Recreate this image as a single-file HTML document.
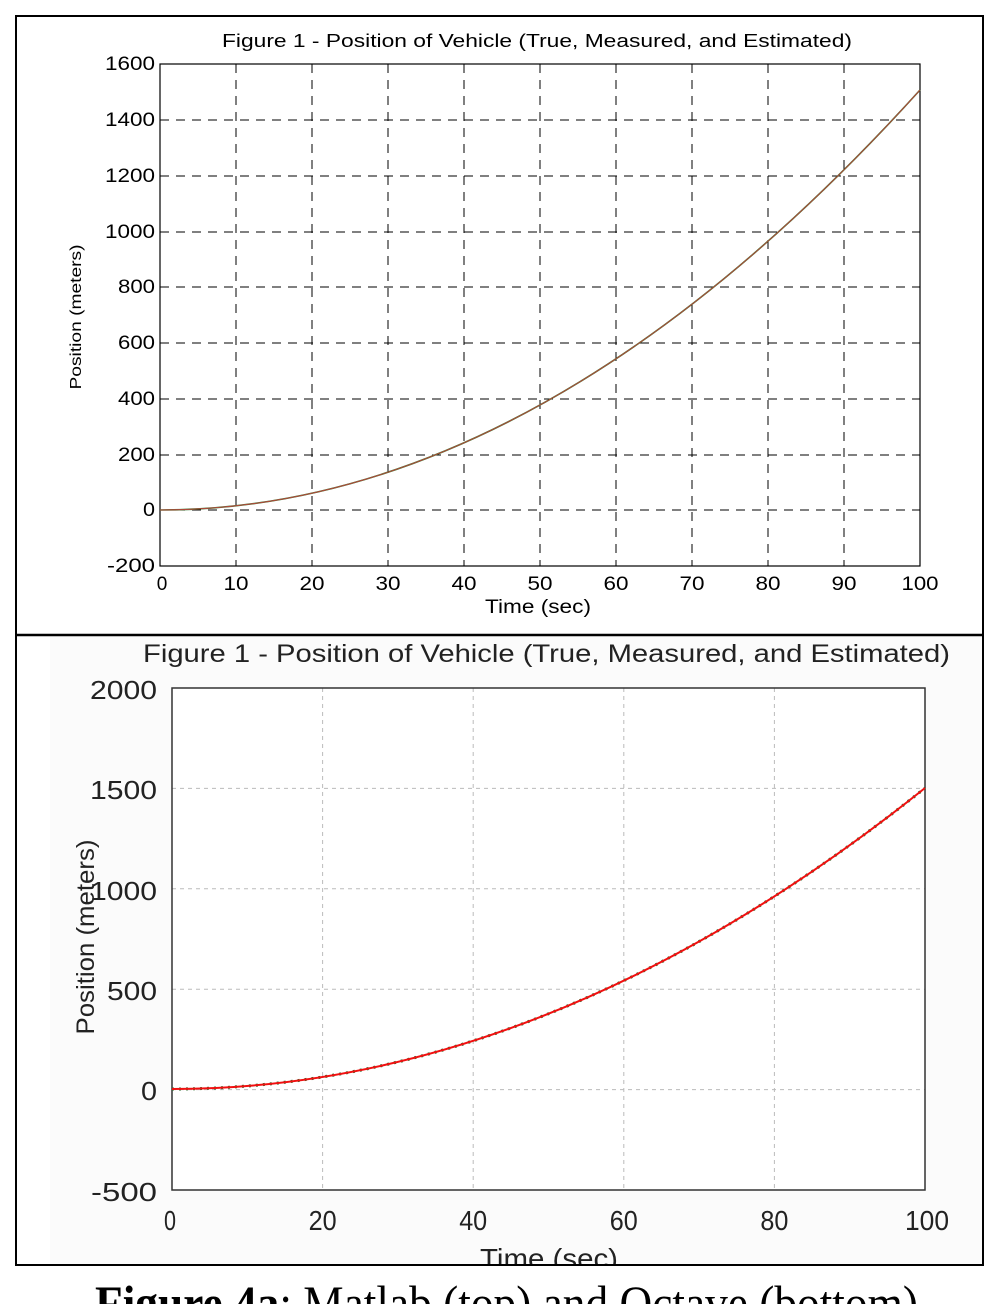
<!DOCTYPE html>
<html><head><meta charset="utf-8"><style>
html,body{margin:0;padding:0;background:#fff;}
svg{display:block;}
</style></head><body>
<svg width="998" height="1304" viewBox="0 0 998 1304" xmlns="http://www.w3.org/2000/svg" font-family="Liberation Sans, Arial, sans-serif">
<rect x="0" y="0" width="998" height="1304" fill="#fff"/>
<rect x="50" y="636" width="932" height="628" fill="#fbfbfb"/>
<rect x="172" y="688" width="753" height="502" fill="#fff"/>
<rect x="16" y="16" width="967" height="1249" fill="none" stroke="#000" stroke-width="2"/>
<line x1="16" y1="635" x2="983" y2="635" stroke="#000" stroke-width="2.5"/>

<!-- TOP PLOT -->
<text x="222" y="47" font-size="18" textLength="630" lengthAdjust="spacingAndGlyphs">Figure 1 - Position of Vehicle (True, Measured, and Estimated)</text>
<g stroke="#000" stroke-width="1" stroke-dasharray="9,7">
<line x1="236" y1="64" x2="236" y2="566"/><line x1="312" y1="64" x2="312" y2="566"/>
<line x1="388" y1="64" x2="388" y2="566"/><line x1="464" y1="64" x2="464" y2="566"/>
<line x1="540" y1="64" x2="540" y2="566"/><line x1="616" y1="64" x2="616" y2="566"/>
<line x1="692" y1="64" x2="692" y2="566"/><line x1="768" y1="64" x2="768" y2="566"/>
<line x1="844" y1="64" x2="844" y2="566"/>
<line x1="160" y1="120" x2="920" y2="120"/><line x1="160" y1="176" x2="920" y2="176"/>
<line x1="160" y1="232" x2="920" y2="232"/><line x1="160" y1="287" x2="920" y2="287"/>
<line x1="160" y1="343" x2="920" y2="343"/><line x1="160" y1="399" x2="920" y2="399"/>
<line x1="160" y1="455" x2="920" y2="455"/><line x1="160" y1="510" x2="920" y2="510"/>
</g>
<rect x="160" y="64" width="760" height="502" fill="none" stroke="#000" stroke-width="1.2"/>
<path d="M160,510 Q540,510 920,90" fill="none" stroke="#2f7a2f" stroke-width="1.6"/>
<path d="M160,510 Q540,510 920,90" fill="none" stroke="#b3473a" stroke-width="1"/>
<g font-size="19" text-anchor="end">
<text x="155" y="70" textLength="50" lengthAdjust="spacingAndGlyphs">1600</text>
<text x="155" y="126" textLength="50" lengthAdjust="spacingAndGlyphs">1400</text>
<text x="155" y="182" textLength="50" lengthAdjust="spacingAndGlyphs">1200</text>
<text x="155" y="238" textLength="50" lengthAdjust="spacingAndGlyphs">1000</text>
<text x="155" y="293" textLength="37" lengthAdjust="spacingAndGlyphs">800</text>
<text x="155" y="349" textLength="37" lengthAdjust="spacingAndGlyphs">600</text>
<text x="155" y="405" textLength="37" lengthAdjust="spacingAndGlyphs">400</text>
<text x="155" y="461" textLength="37" lengthAdjust="spacingAndGlyphs">200</text>
<text x="155" y="516" textLength="12" lengthAdjust="spacingAndGlyphs">0</text>
<text x="155" y="572" textLength="48" lengthAdjust="spacingAndGlyphs">-200</text>
</g>
<g font-size="19" text-anchor="middle">
<text x="162" y="590">0</text>
<text x="236" y="590" textLength="25" lengthAdjust="spacingAndGlyphs">10</text>
<text x="312" y="590" textLength="25" lengthAdjust="spacingAndGlyphs">20</text>
<text x="388" y="590" textLength="25" lengthAdjust="spacingAndGlyphs">30</text>
<text x="464" y="590" textLength="25" lengthAdjust="spacingAndGlyphs">40</text>
<text x="540" y="590" textLength="25" lengthAdjust="spacingAndGlyphs">50</text>
<text x="616" y="590" textLength="25" lengthAdjust="spacingAndGlyphs">60</text>
<text x="692" y="590" textLength="25" lengthAdjust="spacingAndGlyphs">70</text>
<text x="768" y="590" textLength="25" lengthAdjust="spacingAndGlyphs">80</text>
<text x="844" y="590" textLength="25" lengthAdjust="spacingAndGlyphs">90</text>
<text x="920" y="590" textLength="37" lengthAdjust="spacingAndGlyphs">100</text>
<text x="538" y="613" textLength="106" lengthAdjust="spacingAndGlyphs">Time (sec)</text>
</g>
<text transform="translate(81,317) rotate(-90)" font-size="16" text-anchor="middle" textLength="145" lengthAdjust="spacingAndGlyphs">Position (meters)</text>

<!-- BOTTOM PLOT -->
<text x="143" y="662" font-size="25" textLength="807" lengthAdjust="spacingAndGlyphs" fill="#222">Figure 1 - Position of Vehicle (True, Measured, and Estimated)</text>
<g stroke="#bbb" stroke-width="1" stroke-dasharray="4,4">
<line x1="322.6" y1="688" x2="322.6" y2="1190"/><line x1="473.2" y1="688" x2="473.2" y2="1190"/>
<line x1="623.8" y1="688" x2="623.8" y2="1190"/><line x1="774.4" y1="688" x2="774.4" y2="1190"/>
<line x1="172" y1="788.4" x2="925" y2="788.4"/><line x1="172" y1="888.8" x2="925" y2="888.8"/>
<line x1="172" y1="989.2" x2="925" y2="989.2"/><line x1="172" y1="1089.6" x2="925" y2="1089.6"/>
</g>
<rect x="172" y="688" width="753" height="502" fill="none" stroke="#333" stroke-width="1.5"/>
<path d="M172,1089 Q548.5,1089 925,788" fill="none" stroke="#2a6a2a" stroke-width="3" stroke-dasharray="2,5"/>
<path d="M172,1089 Q548.5,1089 925,788" fill="none" stroke="#f01010" stroke-width="2"/>
<g font-size="26" text-anchor="end" fill="#222">
<text x="157" y="699" textLength="67" lengthAdjust="spacingAndGlyphs">2000</text>
<text x="157" y="799" textLength="67" lengthAdjust="spacingAndGlyphs">1500</text>
<text x="157" y="900" textLength="67" lengthAdjust="spacingAndGlyphs">1000</text>
<text x="157" y="1000" textLength="50" lengthAdjust="spacingAndGlyphs">500</text>
<text x="157" y="1100" textLength="16" lengthAdjust="spacingAndGlyphs">0</text>
<text x="157" y="1201" textLength="66" lengthAdjust="spacingAndGlyphs">-500</text>
</g>
<g font-size="28" text-anchor="middle" fill="#222">
<text x="170" y="1230" textLength="12" lengthAdjust="spacingAndGlyphs">0</text>
<text x="322.6" y="1230" textLength="28" lengthAdjust="spacingAndGlyphs">20</text>
<text x="473.2" y="1230" textLength="28" lengthAdjust="spacingAndGlyphs">40</text>
<text x="623.8" y="1230" textLength="28" lengthAdjust="spacingAndGlyphs">60</text>
<text x="774.4" y="1230" textLength="28" lengthAdjust="spacingAndGlyphs">80</text>
<text x="927" y="1230" textLength="44" lengthAdjust="spacingAndGlyphs">100</text>
<text x="549" y="1268" textLength="138" lengthAdjust="spacingAndGlyphs">Time (sec)</text>
</g>
<text transform="translate(94,937) rotate(-90)" font-size="25" text-anchor="middle" textLength="195" lengthAdjust="spacingAndGlyphs" fill="#222">Position (meters)</text>
<rect x="14" y="1266" width="970" height="38" fill="#fff"/>
<line x1="16" y1="1265" x2="983" y2="1265" stroke="#000" stroke-width="2"/>

<text x="95" y="1320" font-family="Liberation Serif, Times New Roman, serif" font-size="50" textLength="823" lengthAdjust="spacingAndGlyphs"><tspan font-weight="bold">Figure 4a</tspan>: Matlab (top) and Octave (bottom)</text>
</svg>
</body></html>
